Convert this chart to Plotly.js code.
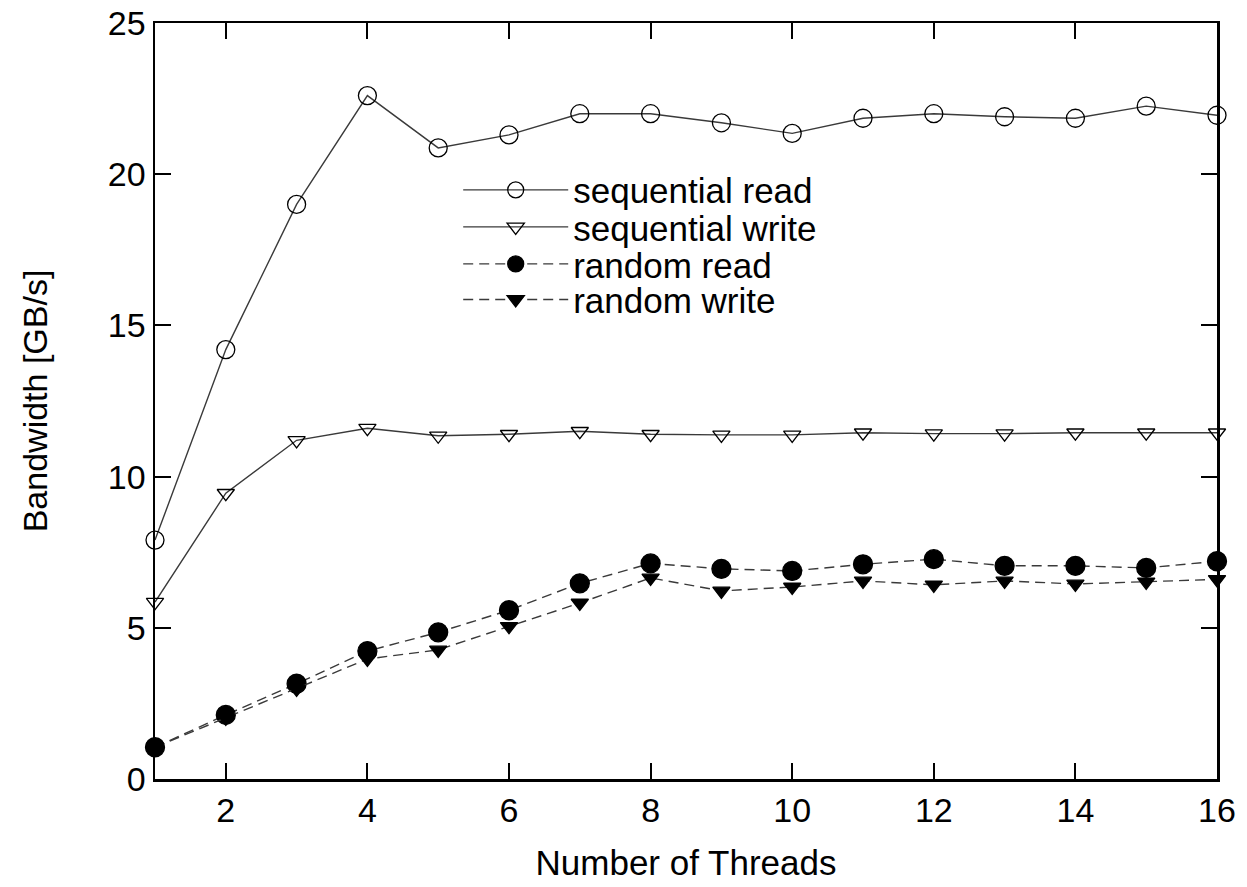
<!DOCTYPE html>
<html>
<head>
<meta charset="utf-8">
<script src="https://cdn.plot.ly/plotly-3.0.1.min.js"></script>
<style>html,body{margin:0;padding:0;background:#fff;}#chart{width:1247px;height:887px;}</style>
</head>
<body>
<div id="chart"></div>
<script>
const threads = [1,2,3,4,5,6,7,8,9,10,11,12,13,14,15,16];
const seqRead = [7.9,14.2,19.0,22.6,20.87,21.3,22.0,22.0,21.7,21.35,21.85,22.0,21.9,21.85,22.25,21.95];
const seqWrite = [5.85,9.45,11.2,11.6,11.35,11.4,11.5,11.4,11.38,11.38,11.45,11.42,11.42,11.45,11.45,11.45];
const randRead = [1.05,2.12,3.15,4.23,4.85,5.58,6.47,7.13,6.95,6.88,7.1,7.27,7.05,7.05,6.98,7.2];
const randWrite = [1.05,2.02,2.98,3.97,4.27,5.05,5.82,6.65,6.22,6.35,6.55,6.42,6.55,6.45,6.52,6.6];
const seriesNames = ['sequential read','sequential write','random read','random write'];
const xTicks = [2,4,6,8,10,12,14,16];
const yTicks = [0,5,10,15,20,25];

const lineCol = '#3a3a3a';
const FONT = 'Liberation Sans, Arial, sans-serif';
const legendIds = ['legend','legend2','legend3','legend4'];
const legendY = [0.779, 0.730, 0.681, 0.634];

function tr(y, i, symbol, dash, size){
  return {
    x: threads, y: y, name: seriesNames[i], type: 'scatter', mode: 'lines+markers',
    legend: legendIds[i],
    line: {color: lineCol, width: 1.4, dash: dash},
    marker: {symbol: symbol, size: size, color: '#000', line: {color: '#000', width: 1.3}},
    cliponaxis: false
  };
}

const data = [
  tr(seqRead, 0, 'circle-open', 'solid', 18),
  tr(seqWrite, 1, 'triangle-down-open', 'solid', 15),
  tr(randRead, 2, 'circle', '10px,6px', 19),
  tr(randWrite, 3, 'triangle-down', '10px,6px', 15)
];

const layout = {
  width: 1247, height: 887,
  margin: {l: 155, r: 30, t: 23, b: 108},
  paper_bgcolor: '#fff', plot_bgcolor: '#fff',
  font: {family: FONT, color: '#000', size: 34},
  showlegend: true,
  xaxis: {
    range: [1,16], tickvals: xTicks, ticktext: xTicks.map(String),
    ticks: 'inside', ticklen: 16, tickwidth: 2, tickcolor: '#000',
    showline: true, linecolor: '#000', linewidth: 2.5, mirror: 'ticks',
    showgrid: false, zeroline: false,
    tickfont: {family: FONT, size: 34, color: '#000'},
    title: {text: 'Number of Threads', font: {family: FONT, size: 35, color: '#000'}, standoff: 22}
  },
  yaxis: {
    range: [0,25], tickvals: yTicks, ticktext: yTicks.map(String),
    ticks: 'inside', ticklen: 16, tickwidth: 2, tickcolor: '#000',
    showline: true, linecolor: '#000', linewidth: 2.5, mirror: 'ticks',
    showgrid: false, zeroline: false,
    tickfont: {family: FONT, size: 34, color: '#000'},
    title: {text: 'Bandwidth [GB/s]', font: {family: FONT, size: 34, color: '#000'}, standoff: 50}
  }
};
legendIds.forEach((id, i) => {
  layout[id] = {
    x: 0.2855, y: legendY[i], xanchor: 'left', yanchor: 'middle',
    bgcolor: 'rgba(0,0,0,0)', font: {family: FONT, size: 35, color: '#000'},
    itemwidth: 105
  };
});

Plotly.newPlot('chart', data, layout, {displayModeBar: false, staticPlot: true});
</script>
</body>
</html>
